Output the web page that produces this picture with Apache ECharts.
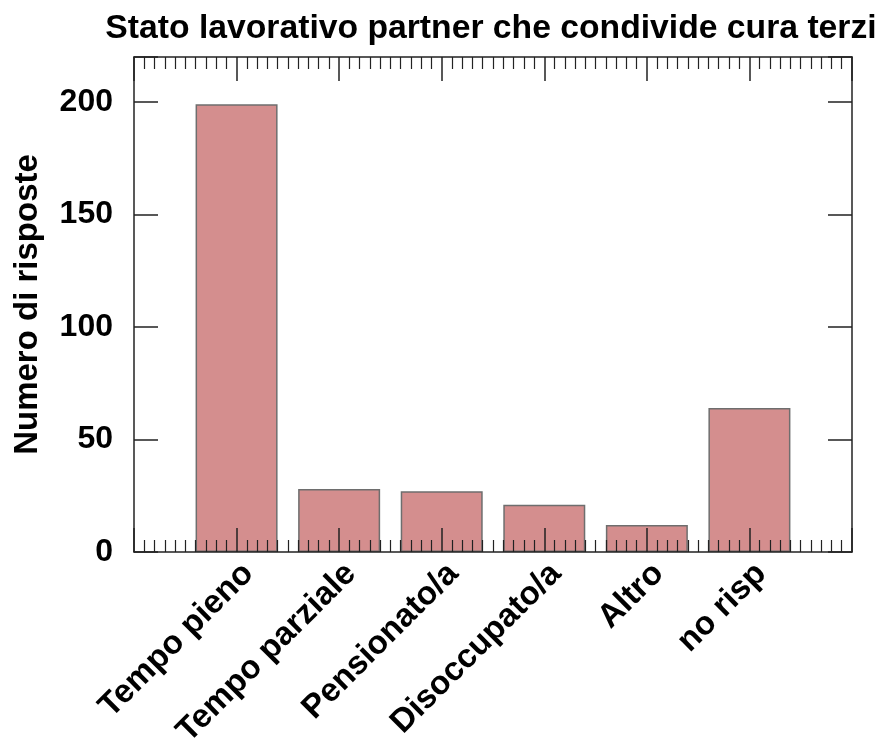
<!DOCTYPE html>
<html>
<head>
<meta charset="utf-8">
<script src="https://cdn.jsdelivr.net/npm/echarts@6/dist/echarts.min.js"></script>
<style>html,body{margin:0;padding:0;background:#fff}#c{width:889px;height:738px}</style>
</head>
<body>
<div id="c"></div>
<script>
const categories = ["Tempo pieno", "Tempo parziale", "Pensionato/a", "Disoccupato/a", "Altro", "no risp"];
const values = [199, 28, 27, 21, 12, 64];
const yTicks = [0, 50, 100, 150, 200];

const FONT = '"Liberation Sans", Arial, sans-serif';
const chart = echarts.init(document.getElementById('c'), null, {renderer: 'canvas'});
const axisLineStyle = {color: '#222', width: 1.5};
const tickStyle = {color: '#222', width: 1.5};

const xCommon = {
  type: 'value', min: 0, max: categories.length + 1, interval: 1, zlevel: 1, z: 5,
  splitLine: {show: false},
  axisLine: {show: true, onZero: false, lineStyle: axisLineStyle},
  axisTick: {show: true, inside: true, length: 24, lineStyle: tickStyle},
  minorTick: {show: true, splitNumber: 10, length: 12, lineStyle: {color: '#222', width: 1.2}},
  minorSplitLine: {show: false}
};
const yCommon = {
  type: 'value', min: 0, max: 220, interval: 50, zlevel: 1, z: 5,
  splitLine: {show: false},
  axisLine: {show: true, onZero: false, lineStyle: axisLineStyle},
  axisTick: {show: true, inside: true, length: 24, lineStyle: tickStyle}
};

chart.setOption({
  backgroundColor: '#fff',
  animation: false,
  title: {
    text: 'Stato lavorativo partner che condivide cura terzi',
    left: 486, top: 7, textAlign: 'center',
    textStyle: {fontFamily: FONT, fontWeight: 'bold', fontSize: 33.7, color: '#000'}
  },
  grid: {left: 134, right: 37, top: 57, bottom: 186, containLabel: false, outerBoundsMode: 'none'},
  xAxis: [
    Object.assign({}, xCommon, {
      position: 'bottom',
      axisLabel: {
        show: true, rotate: 45, margin: 5, verticalAlign: 'top',
        fontFamily: FONT, fontWeight: 'bold', fontSize: 33, color: '#000',
        formatter: v => (v >= 1 && v <= categories.length) ? categories[v - 1] : ''
      }
    }),
    Object.assign({}, xCommon, {position: 'top', axisLabel: {show: false}})
  ],
  yAxis: [
    Object.assign({}, yCommon, {
      position: 'left',
      name: 'Numero di risposte', nameLocation: 'middle', nameGap: 90,
      nameTextStyle: {fontFamily: FONT, fontWeight: 'bold', fontSize: 33, color: '#000'},
      axisLabel: {
        show: true, margin: 21, fontFamily: FONT, fontWeight: 'bold', fontSize: 32, color: '#000',
        formatter: v => yTicks.includes(v) ? String(v) : ''
      }
    }),
    Object.assign({}, yCommon, {position: 'right', axisLabel: {show: false}})
  ],
  series: [{
    type: 'bar',
    xAxisIndex: 0, yAxisIndex: 0,
    barWidth: 82,
    data: values.map((v, i) => [i + 1, v]),
    itemStyle: {color: '#d48e8e', borderColor: '#6e6e6e', borderWidth: 1.5},
    z: 1
  }]
});
</script>
</body>
</html>
